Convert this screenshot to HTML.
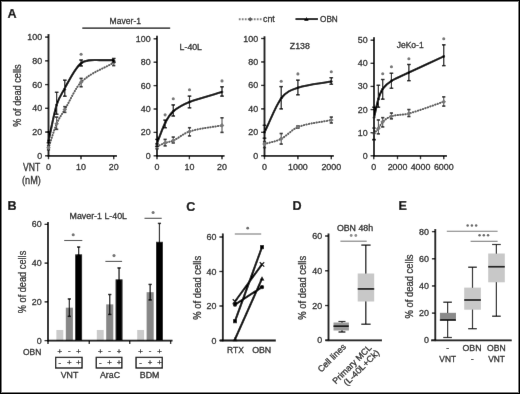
<!DOCTYPE html>
<html><head><meta charset="utf-8"><style>
html,body{margin:0;padding:0;background:#fff;}
body{width:520px;height:394px;overflow:hidden;position:relative;font-family:'Liberation Sans', sans-serif;}
.frame{position:absolute;left:0;top:0;width:520px;height:394px;box-sizing:border-box;border:1px solid #000;box-shadow:inset 0 0 0 1px #7c7c7c;pointer-events:none;}
</style></head><body>
<svg width="520" height="394" viewBox="0 0 520 394" style="position:absolute;left:0;top:0;font-family:'Liberation Sans', sans-serif;filter:grayscale(1)"><style>text{stroke:#1c1c1c;stroke-width:0.28px;paint-order:stroke}</style><defs><filter id="soft" filterUnits="userSpaceOnUse" x="0" y="0" width="520" height="394"><feConvolveMatrix order="3" kernelMatrix="0.02 0.3 0.02 0.3 6 0.3 0.02 0.3 0.02" edgeMode="duplicate" preserveAlpha="true"/></filter></defs><g filter="url(#soft)"><rect x="0" y="0" width="520" height="394" fill="#fff"/><text x="7.40" y="17.70" font-size="12.6" text-anchor="start" fill="#000" font-weight="bold" style="stroke:#000;stroke-width:0.2px">A</text><text x="125.30" y="24.40" font-size="9.0" text-anchor="middle" fill="#1c1c1c" font-weight="normal" textLength="31.4" lengthAdjust="spacingAndGlyphs" >Maver-1</text><line x1="82.30" y1="28.10" x2="170.20" y2="28.10" stroke="#000" stroke-width="1.3" /><line x1="238.80" y1="19.20" x2="261.70" y2="19.20" stroke="#808080" stroke-width="1.9" stroke-dasharray="1.8 1.2"/><path d="M248.00,19.20 L250.20,17.00 L252.40,19.20 L250.20,21.40 Z" fill="#5a5a5a"/><text x="263.00" y="22.00" font-size="8.8" text-anchor="start" fill="#1c1c1c" font-weight="normal" textLength="11.8" lengthAdjust="spacingAndGlyphs" >cnt</text><line x1="295.50" y1="19.10" x2="318.00" y2="19.10" stroke="#000" stroke-width="1.9" /><path d="M304.2,20.9 L306.4,17.0 L308.6,20.9 Z" fill="#000"/><text x="320.00" y="21.90" font-size="8.8" text-anchor="start" fill="#1c1c1c" font-weight="normal" textLength="17.8" lengthAdjust="spacingAndGlyphs" >OBN</text><line x1="48.50" y1="34.00" x2="48.50" y2="156.60" stroke="#000" stroke-width="1.8" /><line x1="45.10" y1="155.80" x2="48.50" y2="155.80" stroke="#000" stroke-width="1.3" /><text x="42.10" y="158.85" font-size="8.9" text-anchor="end" fill="#1c1c1c" font-weight="normal" >0</text><line x1="45.10" y1="132.06" x2="48.50" y2="132.06" stroke="#000" stroke-width="1.3" /><text x="42.10" y="135.11" font-size="8.9" text-anchor="end" fill="#1c1c1c" font-weight="normal" >20</text><line x1="45.10" y1="108.32" x2="48.50" y2="108.32" stroke="#000" stroke-width="1.3" /><text x="42.10" y="111.37" font-size="8.9" text-anchor="end" fill="#1c1c1c" font-weight="normal" >40</text><line x1="45.10" y1="84.58" x2="48.50" y2="84.58" stroke="#000" stroke-width="1.3" /><text x="42.10" y="87.63" font-size="8.9" text-anchor="end" fill="#1c1c1c" font-weight="normal" >60</text><line x1="45.10" y1="60.84" x2="48.50" y2="60.84" stroke="#000" stroke-width="1.3" /><text x="42.10" y="63.89" font-size="8.9" text-anchor="end" fill="#1c1c1c" font-weight="normal" >80</text><line x1="45.10" y1="37.10" x2="48.50" y2="37.10" stroke="#000" stroke-width="1.3" /><text x="42.10" y="40.15" font-size="8.9" text-anchor="end" fill="#1c1c1c" font-weight="normal" >100</text><line x1="47.70" y1="155.80" x2="117.00" y2="155.80" stroke="#000" stroke-width="1.8" /><line x1="48.50" y1="155.80" x2="48.50" y2="159.20" stroke="#000" stroke-width="1.3" /><text x="48.50" y="169.60" font-size="8.9" text-anchor="middle" fill="#1c1c1c" font-weight="normal" >0</text><line x1="81.00" y1="155.80" x2="81.00" y2="159.20" stroke="#000" stroke-width="1.3" /><text x="81.00" y="169.60" font-size="8.9" text-anchor="middle" fill="#1c1c1c" font-weight="normal" >10</text><line x1="113.70" y1="155.80" x2="113.70" y2="159.20" stroke="#000" stroke-width="1.3" /><text x="113.70" y="169.60" font-size="8.9" text-anchor="middle" fill="#1c1c1c" font-weight="normal" >20</text><text transform="translate(21.4,95.6) rotate(-90)" x="0" y="0" font-size="10.3" text-anchor="middle" fill="#1c1c1c" textLength="62.5" lengthAdjust="spacingAndGlyphs">% of dead cells</text><text x="31.60" y="171.00" font-size="10.8" text-anchor="middle" fill="#1c1c1c" font-weight="normal" textLength="17.2" lengthAdjust="spacingAndGlyphs" >VNT</text><text x="31.40" y="183.80" font-size="10.8" text-anchor="middle" fill="#1c1c1c" font-weight="normal" textLength="18.8" lengthAdjust="spacingAndGlyphs" >(nM)</text><path d="M48.50,147.73 C51.22,139.74 53.93,130.12 56.65,123.75 C59.37,117.38 62.08,114.12 64.80,109.51 C70.23,100.27 75.67,87.42 81.10,82.21 C91.97,71.79 102.83,69.15 113.70,62.62" fill="none" stroke="#555555" stroke-width="2.0" stroke-dasharray="0.4 2.2" stroke-linecap="round"/><line x1="48.50" y1="149.87" x2="48.50" y2="145.71" stroke="#2a2a2a" stroke-width="0.9" /><line x1="46.90" y1="149.87" x2="50.10" y2="149.87" stroke="#2a2a2a" stroke-width="1.6" /><line x1="46.90" y1="145.71" x2="50.10" y2="145.71" stroke="#2a2a2a" stroke-width="1.6" /><path d="M46.20,147.73 L48.50,145.43 L50.80,147.73 L48.50,150.03 Z" fill="#777777"/><line x1="56.65" y1="129.33" x2="56.65" y2="117.10" stroke="#2a2a2a" stroke-width="0.9" /><line x1="55.05" y1="129.33" x2="58.25" y2="129.33" stroke="#2a2a2a" stroke-width="1.6" /><line x1="55.05" y1="117.10" x2="58.25" y2="117.10" stroke="#2a2a2a" stroke-width="1.6" /><path d="M54.35,123.75 L56.65,121.45 L58.95,123.75 L56.65,126.05 Z" fill="#777777"/><line x1="64.80" y1="112.36" x2="64.80" y2="106.66" stroke="#2a2a2a" stroke-width="0.9" /><line x1="63.20" y1="112.36" x2="66.40" y2="112.36" stroke="#2a2a2a" stroke-width="1.6" /><line x1="63.20" y1="106.66" x2="66.40" y2="106.66" stroke="#2a2a2a" stroke-width="1.6" /><path d="M62.50,109.51 L64.80,107.21 L67.10,109.51 L64.80,111.81 Z" fill="#777777"/><line x1="81.10" y1="86.72" x2="81.10" y2="78.41" stroke="#2a2a2a" stroke-width="0.9" /><line x1="79.50" y1="86.72" x2="82.70" y2="86.72" stroke="#2a2a2a" stroke-width="1.6" /><line x1="79.50" y1="78.41" x2="82.70" y2="78.41" stroke="#2a2a2a" stroke-width="1.6" /><path d="M78.80,82.21 L81.10,79.91 L83.40,82.21 L81.10,84.51 Z" fill="#777777"/><line x1="113.70" y1="65.59" x2="113.70" y2="60.84" stroke="#2a2a2a" stroke-width="0.9" /><line x1="112.10" y1="65.59" x2="115.30" y2="65.59" stroke="#2a2a2a" stroke-width="1.6" /><line x1="112.10" y1="60.84" x2="115.30" y2="60.84" stroke="#2a2a2a" stroke-width="1.6" /><path d="M111.40,62.62 L113.70,60.32 L116.00,62.62 L113.70,64.92 Z" fill="#777777"/><path d="M48.50,141.00 C51.20,129.00 53.90,113.79 56.60,105.00 C59.27,96.32 61.93,93.63 64.60,88.60 C67.87,82.43 71.13,76.47 74.40,71.40 C76.57,68.04 78.73,64.97 80.90,63.30 C83.50,61.30 86.10,60.84 88.70,60.40 C92.47,59.77 96.23,60.15 100.00,60.10 C104.57,60.05 109.13,60.10 113.70,60.10" fill="none" stroke="#000" stroke-width="2.1"/><line x1="48.50" y1="142.74" x2="48.50" y2="132.06" stroke="#000" stroke-width="1.15" /><line x1="46.70" y1="142.74" x2="50.30" y2="142.74" stroke="#000" stroke-width="1.4" /><line x1="46.70" y1="132.06" x2="50.30" y2="132.06" stroke="#000" stroke-width="1.4" /><circle cx="48.50" cy="140.96" r="1.3" fill="#000"/><line x1="56.65" y1="114.25" x2="56.65" y2="92.30" stroke="#000" stroke-width="1.15" /><line x1="54.85" y1="114.25" x2="58.45" y2="114.25" stroke="#000" stroke-width="1.4" /><line x1="54.85" y1="92.30" x2="58.45" y2="92.30" stroke="#000" stroke-width="1.4" /><circle cx="56.65" cy="104.76" r="1.3" fill="#000"/><line x1="64.80" y1="96.21" x2="64.80" y2="80.19" stroke="#000" stroke-width="1.15" /><line x1="63.00" y1="96.21" x2="66.60" y2="96.21" stroke="#000" stroke-width="1.4" /><line x1="63.00" y1="80.19" x2="66.60" y2="80.19" stroke="#000" stroke-width="1.4" /><circle cx="64.80" cy="89.33" r="1.3" fill="#000"/><line x1="81.10" y1="65.94" x2="81.10" y2="60.01" stroke="#000" stroke-width="1.15" /><line x1="79.30" y1="65.94" x2="82.90" y2="65.94" stroke="#000" stroke-width="1.4" /><line x1="79.30" y1="60.01" x2="82.90" y2="60.01" stroke="#000" stroke-width="1.4" /><circle cx="81.10" cy="63.21" r="1.3" fill="#000"/><line x1="113.70" y1="62.03" x2="113.70" y2="58.47" stroke="#000" stroke-width="1.15" /><line x1="111.90" y1="62.03" x2="115.50" y2="62.03" stroke="#000" stroke-width="1.4" /><line x1="111.90" y1="58.47" x2="115.50" y2="58.47" stroke="#000" stroke-width="1.4" /><circle cx="113.70" cy="60.48" r="1.3" fill="#000"/><circle cx="81.10" cy="54.19" r="1.55" fill="#777777"/><line x1="157.00" y1="35.80" x2="157.00" y2="156.60" stroke="#000" stroke-width="1.8" /><line x1="153.60" y1="155.80" x2="157.00" y2="155.80" stroke="#000" stroke-width="1.3" /><text x="150.60" y="158.85" font-size="8.9" text-anchor="end" fill="#1c1c1c" font-weight="normal" >0</text><line x1="153.60" y1="132.40" x2="157.00" y2="132.40" stroke="#000" stroke-width="1.3" /><text x="150.60" y="135.45" font-size="8.9" text-anchor="end" fill="#1c1c1c" font-weight="normal" >20</text><line x1="153.60" y1="109.00" x2="157.00" y2="109.00" stroke="#000" stroke-width="1.3" /><text x="150.60" y="112.05" font-size="8.9" text-anchor="end" fill="#1c1c1c" font-weight="normal" >40</text><line x1="153.60" y1="85.60" x2="157.00" y2="85.60" stroke="#000" stroke-width="1.3" /><text x="150.60" y="88.65" font-size="8.9" text-anchor="end" fill="#1c1c1c" font-weight="normal" >60</text><line x1="153.60" y1="62.20" x2="157.00" y2="62.20" stroke="#000" stroke-width="1.3" /><text x="150.60" y="65.25" font-size="8.9" text-anchor="end" fill="#1c1c1c" font-weight="normal" >80</text><line x1="153.60" y1="38.80" x2="157.00" y2="38.80" stroke="#000" stroke-width="1.3" /><text x="150.60" y="41.85" font-size="8.9" text-anchor="end" fill="#1c1c1c" font-weight="normal" >100</text><line x1="156.20" y1="155.80" x2="224.50" y2="155.80" stroke="#000" stroke-width="1.8" /><line x1="157.00" y1="155.80" x2="157.00" y2="159.20" stroke="#000" stroke-width="1.3" /><text x="157.00" y="169.60" font-size="8.9" text-anchor="middle" fill="#1c1c1c" font-weight="normal" >0</text><line x1="189.40" y1="155.80" x2="189.40" y2="159.20" stroke="#000" stroke-width="1.3" /><text x="189.40" y="169.60" font-size="8.9" text-anchor="middle" fill="#1c1c1c" font-weight="normal" >10</text><line x1="222.00" y1="155.80" x2="222.00" y2="159.20" stroke="#000" stroke-width="1.3" /><text x="222.00" y="169.60" font-size="8.9" text-anchor="middle" fill="#1c1c1c" font-weight="normal" >20</text><text x="190.80" y="50.30" font-size="8.8" text-anchor="middle" fill="#1c1c1c" font-weight="normal" textLength="22.4" lengthAdjust="spacingAndGlyphs" >L-40L</text><path d="M157.00,146.44 C159.71,145.27 162.42,143.91 165.12,142.93 C167.83,141.96 170.54,141.86 173.25,140.59 C178.67,138.04 184.08,133.15 189.50,131.46 C200.33,128.08 211.17,127.41 222.00,125.38" fill="none" stroke="#555555" stroke-width="2.0" stroke-dasharray="0.4 2.2" stroke-linecap="round"/><line x1="157.00" y1="148.78" x2="157.00" y2="144.10" stroke="#2a2a2a" stroke-width="0.9" /><line x1="155.40" y1="148.78" x2="158.60" y2="148.78" stroke="#2a2a2a" stroke-width="1.6" /><line x1="155.40" y1="144.10" x2="158.60" y2="144.10" stroke="#2a2a2a" stroke-width="1.6" /><path d="M154.70,146.44 L157.00,144.14 L159.30,146.44 L157.00,148.74 Z" fill="#777777"/><line x1="165.12" y1="145.86" x2="165.12" y2="139.42" stroke="#2a2a2a" stroke-width="0.9" /><line x1="163.53" y1="145.86" x2="166.72" y2="145.86" stroke="#2a2a2a" stroke-width="1.6" /><line x1="163.53" y1="139.42" x2="166.72" y2="139.42" stroke="#2a2a2a" stroke-width="1.6" /><path d="M162.82,142.93 L165.12,140.63 L167.43,142.93 L165.12,145.23 Z" fill="#777777"/><line x1="173.25" y1="142.93" x2="173.25" y2="137.08" stroke="#2a2a2a" stroke-width="0.9" /><line x1="171.65" y1="142.93" x2="174.85" y2="142.93" stroke="#2a2a2a" stroke-width="1.6" /><line x1="171.65" y1="137.08" x2="174.85" y2="137.08" stroke="#2a2a2a" stroke-width="1.6" /><path d="M170.95,140.59 L173.25,138.29 L175.55,140.59 L173.25,142.89 Z" fill="#777777"/><line x1="189.50" y1="135.91" x2="189.50" y2="127.72" stroke="#2a2a2a" stroke-width="0.9" /><line x1="187.90" y1="135.91" x2="191.10" y2="135.91" stroke="#2a2a2a" stroke-width="1.6" /><line x1="187.90" y1="127.72" x2="191.10" y2="127.72" stroke="#2a2a2a" stroke-width="1.6" /><path d="M187.20,131.46 L189.50,129.16 L191.80,131.46 L189.50,133.76 Z" fill="#777777"/><line x1="222.00" y1="132.40" x2="222.00" y2="117.78" stroke="#2a2a2a" stroke-width="0.9" /><line x1="220.40" y1="132.40" x2="223.60" y2="132.40" stroke="#2a2a2a" stroke-width="1.6" /><line x1="220.40" y1="117.78" x2="223.60" y2="117.78" stroke="#2a2a2a" stroke-width="1.6" /><path d="M219.70,125.38 L222.00,123.08 L224.30,125.38 L222.00,127.68 Z" fill="#777777"/><path d="M157.00,143.28 C159.71,136.53 162.42,128.36 165.12,123.04 C167.83,117.72 170.54,113.68 173.25,111.34 C178.67,106.66 184.08,104.12 189.50,101.98 C200.33,97.69 211.17,95.35 222.00,92.03" fill="none" stroke="#000" stroke-width="2.1"/><line x1="157.00" y1="146.44" x2="157.00" y2="139.42" stroke="#000" stroke-width="1.15" /><line x1="155.20" y1="146.44" x2="158.80" y2="146.44" stroke="#000" stroke-width="1.4" /><line x1="155.20" y1="139.42" x2="158.80" y2="139.42" stroke="#000" stroke-width="1.4" /><circle cx="157.00" cy="143.28" r="1.3" fill="#000"/><line x1="165.12" y1="127.72" x2="165.12" y2="120.12" stroke="#000" stroke-width="1.15" /><line x1="163.32" y1="127.72" x2="166.93" y2="127.72" stroke="#000" stroke-width="1.4" /><line x1="163.32" y1="120.12" x2="166.93" y2="120.12" stroke="#000" stroke-width="1.4" /><circle cx="165.12" cy="123.04" r="1.3" fill="#000"/><line x1="173.25" y1="116.02" x2="173.25" y2="104.91" stroke="#000" stroke-width="1.15" /><line x1="171.45" y1="116.02" x2="175.05" y2="116.02" stroke="#000" stroke-width="1.4" /><line x1="171.45" y1="104.91" x2="175.05" y2="104.91" stroke="#000" stroke-width="1.4" /><circle cx="173.25" cy="111.34" r="1.3" fill="#000"/><line x1="189.50" y1="107.83" x2="189.50" y2="96.13" stroke="#000" stroke-width="1.15" /><line x1="187.70" y1="107.83" x2="191.30" y2="107.83" stroke="#000" stroke-width="1.4" /><line x1="187.70" y1="96.13" x2="191.30" y2="96.13" stroke="#000" stroke-width="1.4" /><circle cx="189.50" cy="101.98" r="1.3" fill="#000"/><line x1="222.00" y1="96.13" x2="222.00" y2="86.77" stroke="#000" stroke-width="1.15" /><line x1="220.20" y1="96.13" x2="223.80" y2="96.13" stroke="#000" stroke-width="1.4" /><line x1="220.20" y1="86.77" x2="223.80" y2="86.77" stroke="#000" stroke-width="1.4" /><circle cx="222.00" cy="92.03" r="1.3" fill="#000"/><circle cx="165.12" cy="114.85" r="1.55" fill="#777777"/><circle cx="173.25" cy="98.70" r="1.55" fill="#777777"/><circle cx="189.50" cy="89.70" r="1.55" fill="#777777"/><circle cx="222.00" cy="80.92" r="1.55" fill="#777777"/><line x1="264.50" y1="36.30" x2="264.50" y2="156.60" stroke="#000" stroke-width="1.8" /><line x1="261.10" y1="155.80" x2="264.50" y2="155.80" stroke="#000" stroke-width="1.3" /><text x="258.10" y="158.85" font-size="8.9" text-anchor="end" fill="#1c1c1c" font-weight="normal" >0</text><line x1="261.10" y1="132.34" x2="264.50" y2="132.34" stroke="#000" stroke-width="1.3" /><text x="258.10" y="135.39" font-size="8.9" text-anchor="end" fill="#1c1c1c" font-weight="normal" >20</text><line x1="261.10" y1="108.88" x2="264.50" y2="108.88" stroke="#000" stroke-width="1.3" /><text x="258.10" y="111.93" font-size="8.9" text-anchor="end" fill="#1c1c1c" font-weight="normal" >40</text><line x1="261.10" y1="85.42" x2="264.50" y2="85.42" stroke="#000" stroke-width="1.3" /><text x="258.10" y="88.47" font-size="8.9" text-anchor="end" fill="#1c1c1c" font-weight="normal" >60</text><line x1="261.10" y1="61.96" x2="264.50" y2="61.96" stroke="#000" stroke-width="1.3" /><text x="258.10" y="65.01" font-size="8.9" text-anchor="end" fill="#1c1c1c" font-weight="normal" >80</text><line x1="261.10" y1="38.50" x2="264.50" y2="38.50" stroke="#000" stroke-width="1.3" /><text x="258.10" y="41.55" font-size="8.9" text-anchor="end" fill="#1c1c1c" font-weight="normal" >100</text><line x1="263.70" y1="155.80" x2="333.80" y2="155.80" stroke="#000" stroke-width="1.8" /><line x1="264.50" y1="155.80" x2="264.50" y2="159.20" stroke="#000" stroke-width="1.3" /><text x="264.50" y="169.60" font-size="8.9" text-anchor="middle" fill="#1c1c1c" font-weight="normal" >0</text><line x1="297.90" y1="155.80" x2="297.90" y2="159.20" stroke="#000" stroke-width="1.3" /><text x="297.90" y="169.60" font-size="8.9" text-anchor="middle" fill="#1c1c1c" font-weight="normal" >1000</text><line x1="331.30" y1="155.80" x2="331.30" y2="159.20" stroke="#000" stroke-width="1.3" /><text x="331.30" y="169.60" font-size="8.9" text-anchor="middle" fill="#1c1c1c" font-weight="normal" >2000</text><text x="299.80" y="49.30" font-size="8.8" text-anchor="middle" fill="#1c1c1c" font-weight="normal" textLength="20" lengthAdjust="spacingAndGlyphs" >Z138</text><path d="M264.50,144.07 C270.07,142.31 275.63,141.63 281.20,138.79 C286.77,135.96 292.33,129.15 297.90,127.06 C309.03,122.89 320.17,122.37 331.30,120.02" fill="none" stroke="#555555" stroke-width="2.0" stroke-dasharray="0.4 2.2" stroke-linecap="round"/><line x1="264.50" y1="147.59" x2="264.50" y2="141.72" stroke="#2a2a2a" stroke-width="0.9" /><line x1="262.90" y1="147.59" x2="266.10" y2="147.59" stroke="#2a2a2a" stroke-width="1.6" /><line x1="262.90" y1="141.72" x2="266.10" y2="141.72" stroke="#2a2a2a" stroke-width="1.6" /><path d="M262.20,144.07 L264.50,141.77 L266.80,144.07 L264.50,146.37 Z" fill="#777777"/><line x1="281.20" y1="144.07" x2="281.20" y2="133.51" stroke="#2a2a2a" stroke-width="0.9" /><line x1="279.60" y1="144.07" x2="282.80" y2="144.07" stroke="#2a2a2a" stroke-width="1.6" /><line x1="279.60" y1="133.51" x2="282.80" y2="133.51" stroke="#2a2a2a" stroke-width="1.6" /><path d="M278.90,138.79 L281.20,136.49 L283.50,138.79 L281.20,141.09 Z" fill="#777777"/><line x1="297.90" y1="128.23" x2="297.90" y2="125.89" stroke="#2a2a2a" stroke-width="0.9" /><line x1="296.30" y1="128.23" x2="299.50" y2="128.23" stroke="#2a2a2a" stroke-width="1.6" /><line x1="296.30" y1="125.89" x2="299.50" y2="125.89" stroke="#2a2a2a" stroke-width="1.6" /><path d="M295.60,127.06 L297.90,124.76 L300.20,127.06 L297.90,129.36 Z" fill="#777777"/><line x1="331.30" y1="122.96" x2="331.30" y2="117.09" stroke="#2a2a2a" stroke-width="0.9" /><line x1="329.70" y1="122.96" x2="332.90" y2="122.96" stroke="#2a2a2a" stroke-width="1.6" /><line x1="329.70" y1="117.09" x2="332.90" y2="117.09" stroke="#2a2a2a" stroke-width="1.6" /><path d="M329.00,120.02 L331.30,117.72 L333.60,120.02 L331.30,122.32 Z" fill="#777777"/><path d="M264.50,132.34 C270.07,121.00 275.63,105.75 281.20,98.32 C286.77,90.89 292.33,89.63 297.90,87.77 C309.03,84.04 320.17,83.62 331.30,81.55" fill="none" stroke="#000" stroke-width="2.1"/><line x1="264.50" y1="138.21" x2="264.50" y2="125.30" stroke="#000" stroke-width="1.15" /><line x1="262.70" y1="138.21" x2="266.30" y2="138.21" stroke="#000" stroke-width="1.4" /><line x1="262.70" y1="125.30" x2="266.30" y2="125.30" stroke="#000" stroke-width="1.4" /><circle cx="264.50" cy="132.34" r="1.3" fill="#000"/><line x1="281.20" y1="108.88" x2="281.20" y2="86.59" stroke="#000" stroke-width="1.15" /><line x1="279.40" y1="108.88" x2="283.00" y2="108.88" stroke="#000" stroke-width="1.4" /><line x1="279.40" y1="86.59" x2="283.00" y2="86.59" stroke="#000" stroke-width="1.4" /><circle cx="281.20" cy="98.32" r="1.3" fill="#000"/><line x1="297.90" y1="94.80" x2="297.90" y2="80.14" stroke="#000" stroke-width="1.15" /><line x1="296.10" y1="94.80" x2="299.70" y2="94.80" stroke="#000" stroke-width="1.4" /><line x1="296.10" y1="80.14" x2="299.70" y2="80.14" stroke="#000" stroke-width="1.4" /><circle cx="297.90" cy="87.77" r="1.3" fill="#000"/><line x1="331.30" y1="84.25" x2="331.30" y2="77.68" stroke="#000" stroke-width="1.15" /><line x1="329.50" y1="84.25" x2="333.10" y2="84.25" stroke="#000" stroke-width="1.4" /><line x1="329.50" y1="77.68" x2="333.10" y2="77.68" stroke="#000" stroke-width="1.4" /><circle cx="331.30" cy="81.55" r="1.3" fill="#000"/><circle cx="281.20" cy="81.31" r="1.55" fill="#777777"/><circle cx="297.90" cy="73.92" r="1.55" fill="#777777"/><circle cx="331.30" cy="71.81" r="1.55" fill="#777777"/><line x1="374.00" y1="37.30" x2="374.00" y2="156.60" stroke="#000" stroke-width="1.8" /><line x1="370.60" y1="155.80" x2="374.00" y2="155.80" stroke="#000" stroke-width="1.3" /><text x="367.60" y="158.85" font-size="8.9" text-anchor="end" fill="#1c1c1c" font-weight="normal" >0</text><line x1="370.60" y1="132.68" x2="374.00" y2="132.68" stroke="#000" stroke-width="1.3" /><text x="367.60" y="135.73" font-size="8.9" text-anchor="end" fill="#1c1c1c" font-weight="normal" >10</text><line x1="370.60" y1="109.56" x2="374.00" y2="109.56" stroke="#000" stroke-width="1.3" /><text x="367.60" y="112.61" font-size="8.9" text-anchor="end" fill="#1c1c1c" font-weight="normal" >20</text><line x1="370.60" y1="86.44" x2="374.00" y2="86.44" stroke="#000" stroke-width="1.3" /><text x="367.60" y="89.49" font-size="8.9" text-anchor="end" fill="#1c1c1c" font-weight="normal" >30</text><line x1="370.60" y1="63.32" x2="374.00" y2="63.32" stroke="#000" stroke-width="1.3" /><text x="367.60" y="66.37" font-size="8.9" text-anchor="end" fill="#1c1c1c" font-weight="normal" >40</text><line x1="370.60" y1="40.20" x2="374.00" y2="40.20" stroke="#000" stroke-width="1.3" /><text x="367.60" y="43.25" font-size="8.9" text-anchor="end" fill="#1c1c1c" font-weight="normal" >50</text><line x1="373.20" y1="155.80" x2="447.00" y2="155.80" stroke="#000" stroke-width="1.8" /><line x1="373.75" y1="155.80" x2="373.75" y2="159.20" stroke="#000" stroke-width="1.3" /><text x="373.75" y="169.60" font-size="8.9" text-anchor="middle" fill="#1c1c1c" font-weight="normal" >0</text><line x1="397.50" y1="155.80" x2="397.50" y2="159.20" stroke="#000" stroke-width="1.3" /><text x="397.50" y="169.60" font-size="8.9" text-anchor="middle" fill="#1c1c1c" font-weight="normal" >2000</text><line x1="420.50" y1="155.80" x2="420.50" y2="159.20" stroke="#000" stroke-width="1.3" /><text x="420.50" y="169.60" font-size="8.9" text-anchor="middle" fill="#1c1c1c" font-weight="normal" >4000</text><line x1="443.75" y1="155.80" x2="443.75" y2="159.20" stroke="#000" stroke-width="1.3" /><text x="443.75" y="169.60" font-size="8.9" text-anchor="middle" fill="#1c1c1c" font-weight="normal" >6000</text><text x="410.20" y="48.30" font-size="8.8" text-anchor="middle" fill="#1c1c1c" font-weight="normal" textLength="27" lengthAdjust="spacingAndGlyphs" >JeKo-1</text><path d="M374.00,133.37 C375.45,131.76 376.91,130.45 378.36,128.52 C379.81,126.59 381.27,123.18 382.72,121.81 C385.62,119.09 388.53,117.19 391.44,116.26 C397.25,114.42 403.06,115.11 408.88,113.49 C420.50,110.25 432.12,105.63 443.75,101.70" fill="none" stroke="#555555" stroke-width="2.0" stroke-dasharray="0.4 2.2" stroke-linecap="round"/><line x1="374.00" y1="139.62" x2="374.00" y2="128.06" stroke="#2a2a2a" stroke-width="0.9" /><line x1="372.40" y1="139.62" x2="375.60" y2="139.62" stroke="#2a2a2a" stroke-width="1.6" /><line x1="372.40" y1="128.06" x2="375.60" y2="128.06" stroke="#2a2a2a" stroke-width="1.6" /><path d="M371.70,133.37 L374.00,131.07 L376.30,133.37 L374.00,135.67 Z" fill="#777777"/><line x1="378.36" y1="133.84" x2="378.36" y2="119.96" stroke="#2a2a2a" stroke-width="0.9" /><line x1="376.76" y1="133.84" x2="379.96" y2="133.84" stroke="#2a2a2a" stroke-width="1.6" /><line x1="376.76" y1="119.96" x2="379.96" y2="119.96" stroke="#2a2a2a" stroke-width="1.6" /><path d="M376.06,128.52 L378.36,126.22 L380.66,128.52 L378.36,130.82 Z" fill="#777777"/><line x1="382.72" y1="126.90" x2="382.72" y2="117.65" stroke="#2a2a2a" stroke-width="0.9" /><line x1="381.12" y1="126.90" x2="384.32" y2="126.90" stroke="#2a2a2a" stroke-width="1.6" /><line x1="381.12" y1="117.65" x2="384.32" y2="117.65" stroke="#2a2a2a" stroke-width="1.6" /><path d="M380.42,121.81 L382.72,119.51 L385.02,121.81 L382.72,124.11 Z" fill="#777777"/><line x1="391.44" y1="118.81" x2="391.44" y2="113.03" stroke="#2a2a2a" stroke-width="0.9" /><line x1="389.84" y1="118.81" x2="393.04" y2="118.81" stroke="#2a2a2a" stroke-width="1.6" /><line x1="389.84" y1="113.03" x2="393.04" y2="113.03" stroke="#2a2a2a" stroke-width="1.6" /><path d="M389.14,116.26 L391.44,113.96 L393.74,116.26 L391.44,118.56 Z" fill="#777777"/><line x1="408.88" y1="116.50" x2="408.88" y2="109.56" stroke="#2a2a2a" stroke-width="0.9" /><line x1="407.27" y1="116.50" x2="410.48" y2="116.50" stroke="#2a2a2a" stroke-width="1.6" /><line x1="407.27" y1="109.56" x2="410.48" y2="109.56" stroke="#2a2a2a" stroke-width="1.6" /><path d="M406.57,113.49 L408.88,111.19 L411.18,113.49 L408.88,115.79 Z" fill="#777777"/><line x1="443.75" y1="106.09" x2="443.75" y2="96.84" stroke="#2a2a2a" stroke-width="0.9" /><line x1="442.15" y1="106.09" x2="445.35" y2="106.09" stroke="#2a2a2a" stroke-width="1.6" /><line x1="442.15" y1="96.84" x2="445.35" y2="96.84" stroke="#2a2a2a" stroke-width="1.6" /><path d="M441.45,101.70 L443.75,99.40 L446.05,101.70 L443.75,104.00 Z" fill="#777777"/><path d="M374.00,117.65 C375.45,111.49 376.91,103.93 378.36,99.16 C379.81,94.38 381.27,91.01 382.72,88.98 C385.62,84.92 388.53,82.72 391.44,80.89 C397.25,77.24 403.06,75.29 408.88,72.57 C420.50,67.12 432.12,61.78 443.75,56.38" fill="none" stroke="#000" stroke-width="2.1"/><line x1="374.00" y1="139.62" x2="374.00" y2="107.25" stroke="#000" stroke-width="1.15" /><line x1="372.20" y1="139.62" x2="375.80" y2="139.62" stroke="#000" stroke-width="1.4" /><line x1="372.20" y1="107.25" x2="375.80" y2="107.25" stroke="#000" stroke-width="1.4" /><circle cx="374.00" cy="117.65" r="1.3" fill="#000"/><line x1="378.36" y1="107.25" x2="378.36" y2="85.28" stroke="#000" stroke-width="1.15" /><line x1="376.56" y1="107.25" x2="380.16" y2="107.25" stroke="#000" stroke-width="1.4" /><line x1="376.56" y1="85.28" x2="380.16" y2="85.28" stroke="#000" stroke-width="1.4" /><circle cx="378.36" cy="99.16" r="1.3" fill="#000"/><line x1="382.72" y1="99.16" x2="382.72" y2="79.50" stroke="#000" stroke-width="1.15" /><line x1="380.92" y1="99.16" x2="384.52" y2="99.16" stroke="#000" stroke-width="1.4" /><line x1="380.92" y1="79.50" x2="384.52" y2="79.50" stroke="#000" stroke-width="1.4" /><circle cx="382.72" cy="88.98" r="1.3" fill="#000"/><line x1="391.44" y1="88.29" x2="391.44" y2="73.26" stroke="#000" stroke-width="1.15" /><line x1="389.64" y1="88.29" x2="393.24" y2="88.29" stroke="#000" stroke-width="1.4" /><line x1="389.64" y1="73.26" x2="393.24" y2="73.26" stroke="#000" stroke-width="1.4" /><circle cx="391.44" cy="80.89" r="1.3" fill="#000"/><line x1="408.88" y1="80.66" x2="408.88" y2="64.48" stroke="#000" stroke-width="1.15" /><line x1="407.07" y1="80.66" x2="410.68" y2="80.66" stroke="#000" stroke-width="1.4" /><line x1="407.07" y1="64.48" x2="410.68" y2="64.48" stroke="#000" stroke-width="1.4" /><circle cx="408.88" cy="72.57" r="1.3" fill="#000"/><line x1="443.75" y1="65.63" x2="443.75" y2="44.82" stroke="#000" stroke-width="1.15" /><line x1="441.95" y1="65.63" x2="445.55" y2="65.63" stroke="#000" stroke-width="1.4" /><line x1="441.95" y1="44.82" x2="445.55" y2="44.82" stroke="#000" stroke-width="1.4" /><circle cx="443.75" cy="56.38" r="1.3" fill="#000"/><circle cx="382.72" cy="73.72" r="1.55" fill="#777777"/><circle cx="391.44" cy="66.79" r="1.55" fill="#777777"/><circle cx="408.88" cy="58.70" r="1.55" fill="#777777"/><circle cx="443.75" cy="38.81" r="1.55" fill="#777777"/><text x="7.50" y="210.10" font-size="12.6" text-anchor="start" fill="#000" font-weight="bold" style="stroke:#000;stroke-width:0.2px">B</text><text transform="translate(26.4,282.0) rotate(-90)" x="0" y="0" font-size="10.3" text-anchor="middle" fill="#1c1c1c" textLength="62.5" lengthAdjust="spacingAndGlyphs">% of dead cells</text><text x="98.30" y="218.70" font-size="9.0" text-anchor="middle" fill="#1c1c1c" font-weight="normal" textLength="57.4" lengthAdjust="spacingAndGlyphs" >Maver-1 L-40L</text><rect x="56.40" y="329.95" width="6.90" height="10.65" fill="#cbcbcb"/><rect x="65.80" y="307.67" width="7.10" height="32.93" fill="#878787"/><line x1="69.35" y1="298.95" x2="69.35" y2="316.39" stroke="#000" stroke-width="1.2" /><line x1="67.75" y1="298.95" x2="70.95" y2="298.95" stroke="#000" stroke-width="1.4" /><line x1="67.75" y1="316.39" x2="70.95" y2="316.39" stroke="#000" stroke-width="1.4" /><rect x="75.20" y="254.40" width="6.90" height="86.20" fill="#000"/><line x1="78.65" y1="247.04" x2="78.65" y2="255.37" stroke="#000" stroke-width="1.2" /><line x1="77.05" y1="247.04" x2="80.25" y2="247.04" stroke="#000" stroke-width="1.4" /><line x1="77.05" y1="255.37" x2="80.25" y2="255.37" stroke="#000" stroke-width="1.4" /><text x="59.85" y="354.00" font-size="7.8" text-anchor="middle" fill="#1c1c1c" font-weight="normal" >+</text><text x="59.85" y="364.50" font-size="7.8" text-anchor="middle" fill="#1c1c1c" font-weight="normal" >-</text><text x="69.25" y="353.20" font-size="7.8" text-anchor="middle" fill="#1c1c1c" font-weight="normal" >-</text><text x="69.25" y="365.30" font-size="7.8" text-anchor="middle" fill="#1c1c1c" font-weight="normal" >+</text><text x="78.65" y="354.00" font-size="7.8" text-anchor="middle" fill="#1c1c1c" font-weight="normal" >+</text><text x="78.65" y="365.30" font-size="7.8" text-anchor="middle" fill="#1c1c1c" font-weight="normal" >+</text><rect x="55.65" y="357.4" width="26.40" height="10.6" fill="none" stroke="#000" stroke-width="1.3"/><text x="69.50" y="378.40" font-size="8.8" text-anchor="middle" fill="#1c1c1c" font-weight="normal" >VNT</text><rect x="96.80" y="329.95" width="6.90" height="10.65" fill="#cbcbcb"/><rect x="106.20" y="304.38" width="7.10" height="36.22" fill="#878787"/><line x1="109.75" y1="294.50" x2="109.75" y2="314.45" stroke="#000" stroke-width="1.2" /><line x1="108.15" y1="294.50" x2="111.35" y2="294.50" stroke="#000" stroke-width="1.4" /><line x1="108.15" y1="314.45" x2="111.35" y2="314.45" stroke="#000" stroke-width="1.4" /><rect x="115.60" y="279.39" width="6.90" height="61.21" fill="#000"/><line x1="119.05" y1="267.96" x2="119.05" y2="286.36" stroke="#000" stroke-width="1.2" /><line x1="117.45" y1="267.96" x2="120.65" y2="267.96" stroke="#000" stroke-width="1.4" /><line x1="117.45" y1="286.36" x2="120.65" y2="286.36" stroke="#000" stroke-width="1.4" /><text x="100.25" y="354.00" font-size="7.8" text-anchor="middle" fill="#1c1c1c" font-weight="normal" >+</text><text x="100.25" y="364.50" font-size="7.8" text-anchor="middle" fill="#1c1c1c" font-weight="normal" >-</text><text x="109.65" y="353.20" font-size="7.8" text-anchor="middle" fill="#1c1c1c" font-weight="normal" >-</text><text x="109.65" y="365.30" font-size="7.8" text-anchor="middle" fill="#1c1c1c" font-weight="normal" >+</text><text x="119.05" y="354.00" font-size="7.8" text-anchor="middle" fill="#1c1c1c" font-weight="normal" >+</text><text x="119.05" y="365.30" font-size="7.8" text-anchor="middle" fill="#1c1c1c" font-weight="normal" >+</text><rect x="96.25" y="357.4" width="25.60" height="10.6" fill="none" stroke="#000" stroke-width="1.3"/><text x="110.00" y="378.40" font-size="8.8" text-anchor="middle" fill="#1c1c1c" font-weight="normal" >AraC</text><rect x="137.20" y="329.95" width="6.90" height="10.65" fill="#cbcbcb"/><rect x="146.60" y="292.18" width="7.10" height="48.43" fill="#878787"/><line x1="150.15" y1="284.43" x2="150.15" y2="299.92" stroke="#000" stroke-width="1.2" /><line x1="148.55" y1="284.43" x2="151.75" y2="284.43" stroke="#000" stroke-width="1.4" /><line x1="148.55" y1="299.92" x2="151.75" y2="299.92" stroke="#000" stroke-width="1.4" /><rect x="156.00" y="241.81" width="6.90" height="98.79" fill="#000"/><line x1="159.45" y1="223.41" x2="159.45" y2="253.44" stroke="#000" stroke-width="1.2" /><line x1="157.85" y1="223.41" x2="161.05" y2="223.41" stroke="#000" stroke-width="1.4" /><line x1="157.85" y1="253.44" x2="161.05" y2="253.44" stroke="#000" stroke-width="1.4" /><text x="140.65" y="354.00" font-size="7.8" text-anchor="middle" fill="#1c1c1c" font-weight="normal" >+</text><text x="140.65" y="364.50" font-size="7.8" text-anchor="middle" fill="#1c1c1c" font-weight="normal" >-</text><text x="150.05" y="353.20" font-size="7.8" text-anchor="middle" fill="#1c1c1c" font-weight="normal" >-</text><text x="150.05" y="365.30" font-size="7.8" text-anchor="middle" fill="#1c1c1c" font-weight="normal" >+</text><text x="159.45" y="354.00" font-size="7.8" text-anchor="middle" fill="#1c1c1c" font-weight="normal" >+</text><text x="159.45" y="365.30" font-size="7.8" text-anchor="middle" fill="#1c1c1c" font-weight="normal" >+</text><rect x="136.05" y="357.4" width="26.20" height="10.6" fill="none" stroke="#000" stroke-width="1.3"/><text x="149.60" y="378.40" font-size="8.8" text-anchor="middle" fill="#1c1c1c" font-weight="normal" >BDM</text><text x="41.30" y="355.30" font-size="8.8" text-anchor="end" fill="#1c1c1c" font-weight="normal" textLength="18.3" lengthAdjust="spacingAndGlyphs" >OBN</text><line x1="48.00" y1="221.90" x2="48.00" y2="341.40" stroke="#000" stroke-width="1.8" /><line x1="44.60" y1="340.60" x2="48.00" y2="340.60" stroke="#000" stroke-width="1.3" /><text x="41.60" y="343.65" font-size="8.9" text-anchor="end" fill="#1c1c1c" font-weight="normal" >0</text><line x1="44.60" y1="301.86" x2="48.00" y2="301.86" stroke="#000" stroke-width="1.3" /><text x="41.60" y="304.91" font-size="8.9" text-anchor="end" fill="#1c1c1c" font-weight="normal" >20</text><line x1="44.60" y1="263.12" x2="48.00" y2="263.12" stroke="#000" stroke-width="1.3" /><text x="41.60" y="266.17" font-size="8.9" text-anchor="end" fill="#1c1c1c" font-weight="normal" >40</text><line x1="44.60" y1="224.38" x2="48.00" y2="224.38" stroke="#000" stroke-width="1.3" /><text x="41.60" y="227.43" font-size="8.9" text-anchor="end" fill="#1c1c1c" font-weight="normal" >60</text><line x1="47.20" y1="340.60" x2="172.50" y2="340.60" stroke="#000" stroke-width="1.8" /><line x1="48.00" y1="340.60" x2="48.00" y2="344.00" stroke="#000" stroke-width="1.3" /><line x1="89.30" y1="340.60" x2="89.30" y2="344.00" stroke="#000" stroke-width="1.3" /><line x1="129.70" y1="340.60" x2="129.70" y2="344.00" stroke="#000" stroke-width="1.3" /><line x1="170.60" y1="340.60" x2="170.60" y2="344.00" stroke="#000" stroke-width="1.3" /><line x1="64.20" y1="240.50" x2="82.30" y2="240.50" stroke="#4a4a4a" stroke-width="1.1" /><circle cx="73.20" cy="234.70" r="1.55" fill="#737373"/><line x1="105.40" y1="261.40" x2="122.10" y2="261.40" stroke="#4a4a4a" stroke-width="1.1" /><circle cx="114.00" cy="255.60" r="1.55" fill="#737373"/><line x1="144.50" y1="218.30" x2="161.70" y2="218.30" stroke="#4a4a4a" stroke-width="1.1" /><circle cx="153.10" cy="212.50" r="1.55" fill="#737373"/><text x="186.30" y="210.50" font-size="12.6" text-anchor="start" fill="#000" font-weight="bold" style="stroke:#000;stroke-width:0.2px">C</text><line x1="222.80" y1="233.50" x2="222.80" y2="341.30" stroke="#000" stroke-width="1.8" /><line x1="219.40" y1="340.50" x2="222.80" y2="340.50" stroke="#000" stroke-width="1.3" /><text x="216.40" y="343.55" font-size="8.9" text-anchor="end" fill="#1c1c1c" font-weight="normal" >0</text><line x1="219.40" y1="306.00" x2="222.80" y2="306.00" stroke="#000" stroke-width="1.3" /><text x="216.40" y="309.05" font-size="8.9" text-anchor="end" fill="#1c1c1c" font-weight="normal" >20</text><line x1="219.40" y1="271.50" x2="222.80" y2="271.50" stroke="#000" stroke-width="1.3" /><text x="216.40" y="274.55" font-size="8.9" text-anchor="end" fill="#1c1c1c" font-weight="normal" >40</text><line x1="219.40" y1="237.00" x2="222.80" y2="237.00" stroke="#000" stroke-width="1.3" /><text x="216.40" y="240.05" font-size="8.9" text-anchor="end" fill="#1c1c1c" font-weight="normal" >60</text><line x1="219.80" y1="340.50" x2="275.80" y2="340.50" stroke="#000" stroke-width="1.8" /><text transform="translate(200.5,287.8) rotate(-90)" x="0" y="0" font-size="10.3" text-anchor="middle" fill="#1c1c1c" textLength="64" lengthAdjust="spacingAndGlyphs">% of dead cells</text><text x="235.40" y="353.30" font-size="8.8" text-anchor="middle" fill="#1c1c1c" font-weight="normal" textLength="16.9" lengthAdjust="spacingAndGlyphs" >RTX</text><text x="261.70" y="353.30" font-size="8.8" text-anchor="middle" fill="#1c1c1c" font-weight="normal" textLength="19.0" lengthAdjust="spacingAndGlyphs" >OBN</text><line x1="234.80" y1="234.00" x2="261.20" y2="234.00" stroke="#7a7a7a" stroke-width="1.1" /><circle cx="247.70" cy="228.20" r="1.4" fill="#6a6a6a"/><line x1="235.00" y1="321.20" x2="262.00" y2="247.10" stroke="#000" stroke-width="2.1" /><rect x="233.00" y="319.20" width="4.00" height="4.00" fill="#000"/><rect x="260.00" y="245.10" width="4.00" height="4.00" fill="#000"/><line x1="235.00" y1="301.50" x2="262.00" y2="264.40" stroke="#000" stroke-width="2.1" /><line x1="232.80" y1="299.30" x2="237.20" y2="303.70" stroke="#000" stroke-width="1.3" /><line x1="232.80" y1="303.70" x2="237.20" y2="299.30" stroke="#000" stroke-width="1.3" /><line x1="259.80" y1="262.20" x2="264.20" y2="266.60" stroke="#000" stroke-width="1.3" /><line x1="259.80" y1="266.60" x2="264.20" y2="262.20" stroke="#000" stroke-width="1.3" /><line x1="235.00" y1="304.60" x2="262.00" y2="287.10" stroke="#000" stroke-width="2.1" /><circle cx="235" cy="304.6" r="2.2" fill="#000"/><circle cx="262" cy="287.1" r="2.2" fill="#000"/><line x1="235.00" y1="339.20" x2="262.00" y2="278.60" stroke="#000" stroke-width="2.1" /><path d="M232.6,341.2 L235,336.8 L237.4,341.2 Z" fill="#000"/><path d="M259.6,280.6 L262,276.20000000000005 L264.4,280.6 Z" fill="#000"/><text x="292.40" y="210.10" font-size="12.6" text-anchor="start" fill="#000" font-weight="bold" style="stroke:#000;stroke-width:0.2px">D</text><line x1="328.50" y1="233.50" x2="328.50" y2="341.10" stroke="#000" stroke-width="1.8" /><line x1="325.10" y1="340.30" x2="328.50" y2="340.30" stroke="#000" stroke-width="1.3" /><text x="322.10" y="343.35" font-size="8.9" text-anchor="end" fill="#1c1c1c" font-weight="normal" >0</text><line x1="325.10" y1="305.53" x2="328.50" y2="305.53" stroke="#000" stroke-width="1.3" /><text x="322.10" y="308.58" font-size="8.9" text-anchor="end" fill="#1c1c1c" font-weight="normal" >20</text><line x1="325.10" y1="270.77" x2="328.50" y2="270.77" stroke="#000" stroke-width="1.3" /><text x="322.10" y="273.82" font-size="8.9" text-anchor="end" fill="#1c1c1c" font-weight="normal" >40</text><line x1="325.10" y1="236.00" x2="328.50" y2="236.00" stroke="#000" stroke-width="1.3" /><text x="322.10" y="239.05" font-size="8.9" text-anchor="end" fill="#1c1c1c" font-weight="normal" >60</text><line x1="325.40" y1="340.30" x2="382.00" y2="340.30" stroke="#000" stroke-width="1.8" /><text transform="translate(306.0,287.8) rotate(-90)" x="0" y="0" font-size="10.3" text-anchor="middle" fill="#1c1c1c" textLength="64" lengthAdjust="spacingAndGlyphs">% of dead cells</text><text x="355.00" y="231.20" font-size="8.8" text-anchor="middle" fill="#1c1c1c" font-weight="normal" textLength="36.2" lengthAdjust="spacingAndGlyphs" >OBN 48h</text><line x1="340.40" y1="241.20" x2="366.70" y2="241.20" stroke="#7a7a7a" stroke-width="1.1" /><circle cx="351.20" cy="235.50" r="1.4" fill="#8c8c8c"/><circle cx="355.80" cy="235.50" r="1.4" fill="#8c8c8c"/><line x1="342.00" y1="321.50" x2="342.00" y2="332.00" stroke="#000" stroke-width="1.2" /><line x1="338.50" y1="321.50" x2="345.40" y2="321.50" stroke="#000" stroke-width="1.2" /><line x1="338.50" y1="332.00" x2="345.40" y2="332.00" stroke="#000" stroke-width="1.2" /><rect x="333.50" y="322.50" width="15.40" height="8.00" fill="#9a9a9a"/><line x1="333.50" y1="326.20" x2="348.90" y2="326.20" stroke="#000" stroke-width="1.6" /><line x1="365.80" y1="245.10" x2="365.80" y2="324.20" stroke="#000" stroke-width="1.2" /><line x1="361.30" y1="245.10" x2="370.60" y2="245.10" stroke="#000" stroke-width="1.2" /><line x1="361.30" y1="324.20" x2="370.60" y2="324.20" stroke="#000" stroke-width="1.2" /><rect x="357.70" y="273.50" width="16.50" height="28.00" fill="#c8c8c8"/><line x1="357.70" y1="288.90" x2="374.20" y2="288.90" stroke="#000" stroke-width="1.6" /><text transform="translate(346.5,347.5) rotate(-45)" font-size="8.8" text-anchor="end" fill="#1c1c1c">Cell lines</text><text transform="translate(372.3,348.3) rotate(-45)" font-size="8.8" text-anchor="end" fill="#1c1c1c">Primary MCL</text><text transform="translate(380.0,353.3) rotate(-45)" font-size="8.8" text-anchor="end" fill="#1c1c1c" textLength="46.6" lengthAdjust="spacingAndGlyphs">(L-40L+Ck)</text><text x="398.40" y="210.10" font-size="12.6" text-anchor="start" fill="#000" font-weight="bold" style="stroke:#000;stroke-width:0.2px">E</text><line x1="435.30" y1="229.00" x2="435.30" y2="341.10" stroke="#000" stroke-width="1.8" /><line x1="431.90" y1="340.30" x2="435.30" y2="340.30" stroke="#000" stroke-width="1.3" /><text x="428.90" y="343.35" font-size="8.9" text-anchor="end" fill="#1c1c1c" font-weight="normal" >0</text><line x1="431.90" y1="313.12" x2="435.30" y2="313.12" stroke="#000" stroke-width="1.3" /><text x="428.90" y="316.18" font-size="8.9" text-anchor="end" fill="#1c1c1c" font-weight="normal" >20</text><line x1="431.90" y1="285.95" x2="435.30" y2="285.95" stroke="#000" stroke-width="1.3" /><text x="428.90" y="289.00" font-size="8.9" text-anchor="end" fill="#1c1c1c" font-weight="normal" >40</text><line x1="431.90" y1="258.77" x2="435.30" y2="258.77" stroke="#000" stroke-width="1.3" /><text x="428.90" y="261.82" font-size="8.9" text-anchor="end" fill="#1c1c1c" font-weight="normal" >60</text><line x1="431.90" y1="231.60" x2="435.30" y2="231.60" stroke="#000" stroke-width="1.3" /><text x="428.90" y="234.65" font-size="8.9" text-anchor="end" fill="#1c1c1c" font-weight="normal" >80</text><line x1="431.00" y1="340.30" x2="511.70" y2="340.30" stroke="#000" stroke-width="1.8" /><text transform="translate(412.8,286.5) rotate(-90)" x="0" y="0" font-size="10.3" text-anchor="middle" fill="#1c1c1c" textLength="64" lengthAdjust="spacingAndGlyphs">% of dead cells</text><line x1="446.80" y1="231.30" x2="497.60" y2="231.30" stroke="#7a7a7a" stroke-width="1.1" /><circle cx="467.65" cy="225.60" r="1.25" fill="#666"/><circle cx="471.90" cy="225.60" r="1.25" fill="#666"/><circle cx="476.15" cy="225.60" r="1.25" fill="#666"/><line x1="470.60" y1="241.30" x2="497.60" y2="241.30" stroke="#7a7a7a" stroke-width="1.1" /><circle cx="479.55" cy="235.20" r="1.25" fill="#666"/><circle cx="483.80" cy="235.20" r="1.25" fill="#666"/><circle cx="488.05" cy="235.20" r="1.25" fill="#666"/><line x1="447.60" y1="302.20" x2="447.60" y2="337.50" stroke="#000" stroke-width="1.2" /><line x1="443.30" y1="302.20" x2="451.90" y2="302.20" stroke="#000" stroke-width="1.2" /><line x1="443.30" y1="337.50" x2="451.90" y2="337.50" stroke="#000" stroke-width="1.2" /><rect x="439.90" y="312.80" width="16.10" height="8.10" fill="#8a8a8a"/><line x1="439.90" y1="320.00" x2="456.00" y2="320.00" stroke="#000" stroke-width="1.6" /><line x1="472.50" y1="267.20" x2="472.50" y2="328.70" stroke="#000" stroke-width="1.2" /><line x1="468.20" y1="267.20" x2="476.80" y2="267.20" stroke="#000" stroke-width="1.2" /><line x1="468.20" y1="328.70" x2="476.80" y2="328.70" stroke="#000" stroke-width="1.2" /><rect x="464.20" y="287.60" width="16.70" height="22.10" fill="#c8c8c8"/><line x1="464.20" y1="300.00" x2="480.90" y2="300.00" stroke="#000" stroke-width="1.6" /><line x1="496.40" y1="244.50" x2="496.40" y2="316.20" stroke="#000" stroke-width="1.2" /><line x1="492.10" y1="244.50" x2="500.70" y2="244.50" stroke="#000" stroke-width="1.2" /><line x1="492.10" y1="316.20" x2="500.70" y2="316.20" stroke="#000" stroke-width="1.2" /><rect x="488.20" y="253.50" width="16.60" height="28.80" fill="#c8c8c8"/><line x1="488.20" y1="266.70" x2="504.80" y2="266.70" stroke="#000" stroke-width="1.6" /><text x="447.70" y="351.30" font-size="8.8" text-anchor="middle" fill="#1c1c1c" font-weight="normal" >-</text><text x="472.00" y="351.30" font-size="8.8" text-anchor="middle" fill="#1c1c1c" font-weight="normal" textLength="19.0" lengthAdjust="spacingAndGlyphs" >OBN</text><text x="496.40" y="351.30" font-size="8.8" text-anchor="middle" fill="#1c1c1c" font-weight="normal" textLength="18.6" lengthAdjust="spacingAndGlyphs" >OBN</text><text x="447.70" y="362.00" font-size="8.8" text-anchor="middle" fill="#1c1c1c" font-weight="normal" textLength="16.7" lengthAdjust="spacingAndGlyphs" >VNT</text><text x="472.30" y="362.00" font-size="8.8" text-anchor="middle" fill="#1c1c1c" font-weight="normal" >-</text><text x="496.60" y="362.00" font-size="8.8" text-anchor="middle" fill="#1c1c1c" font-weight="normal" textLength="16.7" lengthAdjust="spacingAndGlyphs" >VNT</text></g></svg>
<div class="frame"></div>
</body></html>
